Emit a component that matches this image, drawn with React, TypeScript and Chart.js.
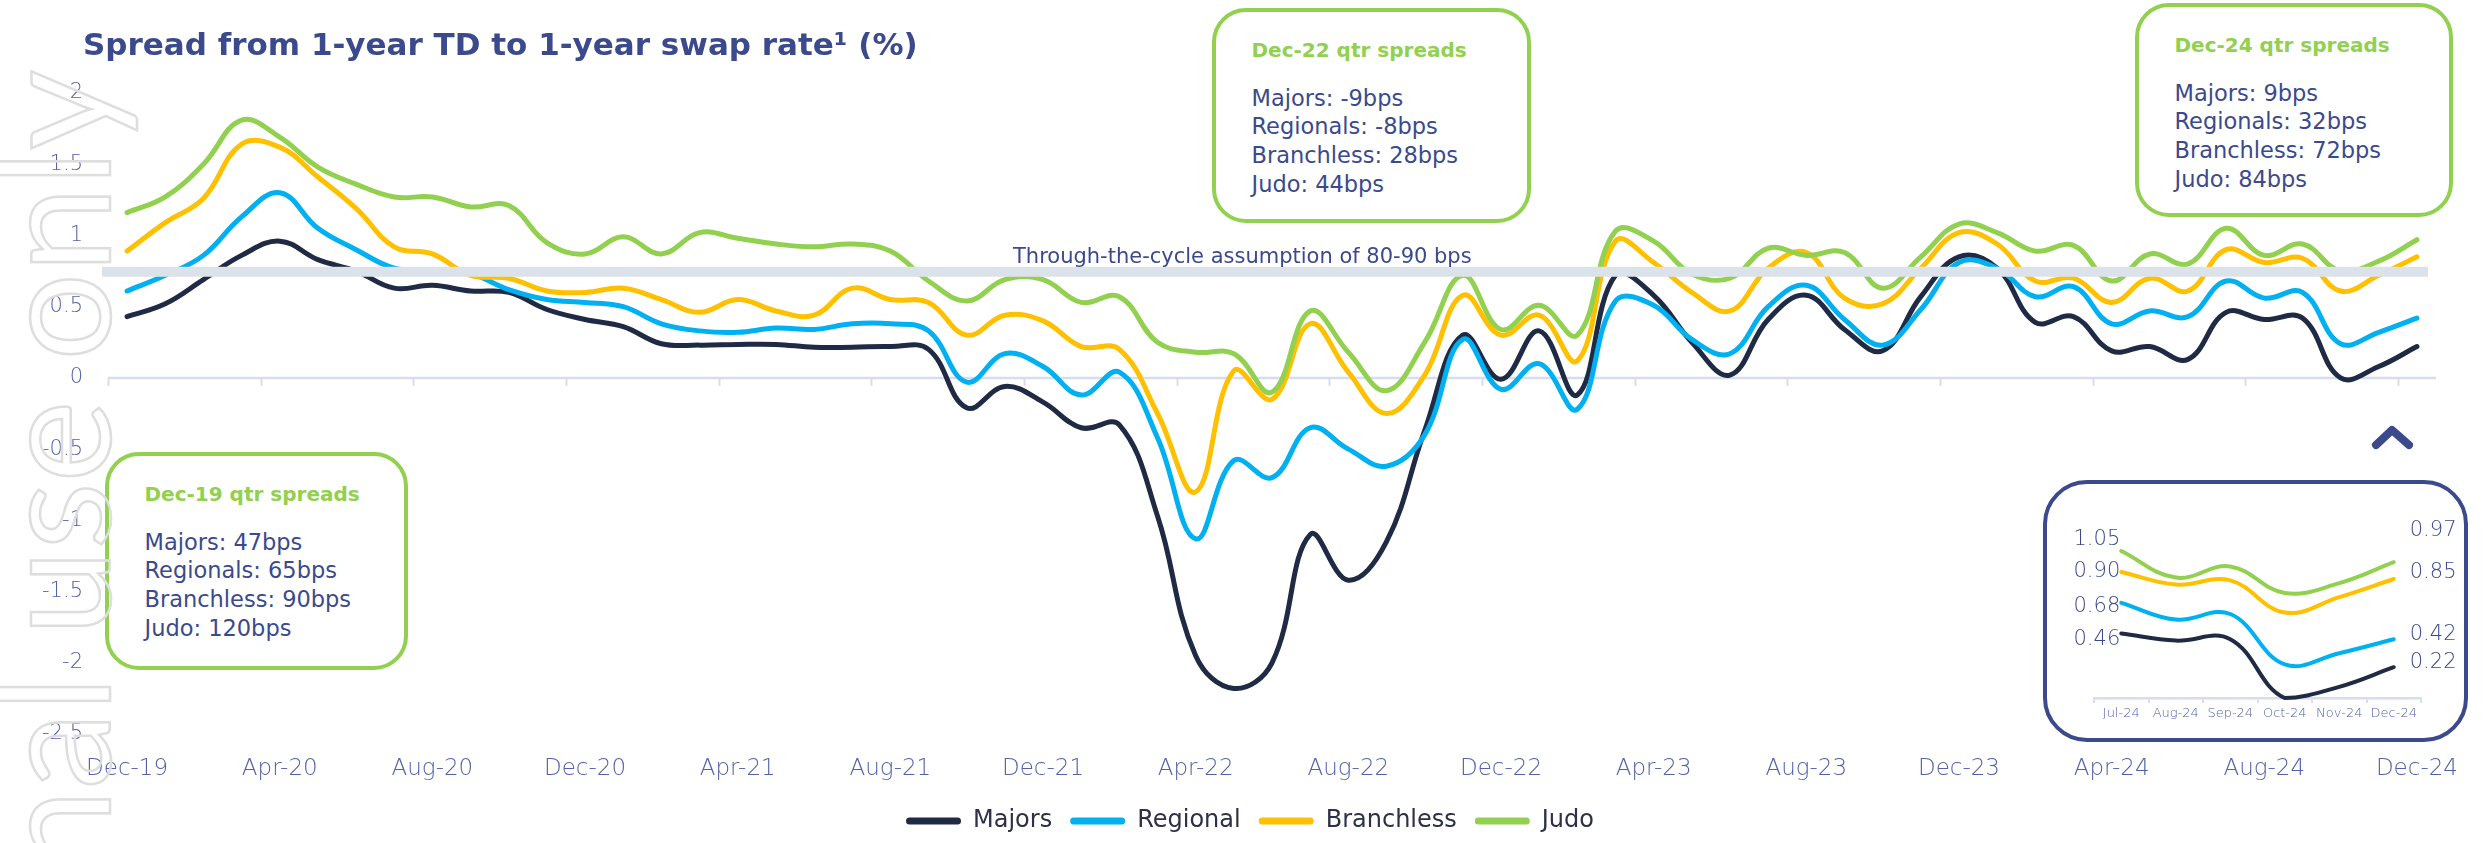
import React, { useEffect, useRef } from 'react';
import { Chart, registerables } from 'chart.js';

Chart.register(...registerables);

const FONT = '"DejaVu Sans", sans-serif';
const NAVY = '#3A4A8C';
const AXIS_TEXT = '#5262A8';

const MONTHS = [
  'Dec-19',
  'Jan-20', 'Feb-20', 'Mar-20', 'Apr-20', 'May-20', 'Jun-20', 'Jul-20', 'Aug-20', 'Sep-20', 'Oct-20', 'Nov-20', 'Dec-20',
  'Jan-21', 'Feb-21', 'Mar-21', 'Apr-21', 'May-21', 'Jun-21', 'Jul-21', 'Aug-21', 'Sep-21', 'Oct-21', 'Nov-21', 'Dec-21',
  'Jan-22', 'Feb-22', 'Mar-22', 'Apr-22', 'May-22', 'Jun-22', 'Jul-22', 'Aug-22', 'Sep-22', 'Oct-22', 'Nov-22', 'Dec-22',
  'Jan-23', 'Feb-23', 'Mar-23', 'Apr-23', 'May-23', 'Jun-23', 'Jul-23', 'Aug-23', 'Sep-23', 'Oct-23', 'Nov-23', 'Dec-23',
  'Jan-24', 'Feb-24', 'Mar-24', 'Apr-24', 'May-24', 'Jun-24', 'Jul-24', 'Aug-24', 'Sep-24', 'Oct-24', 'Nov-24', 'Dec-24',
];

const MAJORS = [
  0.43, 0.52, 0.69, 0.86, 0.96, 0.83, 0.75, 0.63, 0.65, 0.61,
  0.60, 0.48, 0.41, 0.36, 0.24, 0.23, 0.235, 0.235, 0.215, 0.215,
  0.22, 0.20, -0.21, -0.06, -0.17, -0.35, -0.33, -0.97, -1.95, -2.18,
  -2.0, -1.1, -1.42, -1.15, -0.37, 0.30, -0.01, 0.33, -0.12, 0.72,
  0.58, 0.25, 0.02, 0.41, 0.58, 0.34, 0.19, 0.57, 0.85, 0.77,
  0.39, 0.43, 0.19, 0.22, 0.13, 0.46, 0.41, 0.42, 0.0, 0.08,
  0.22,
];

const REGIONAL = [
  0.61, 0.72, 0.86, 1.13, 1.30, 1.05, 0.90, 0.77, 0.75, 0.73,
  0.62, 0.55, 0.53, 0.50, 0.38, 0.33, 0.32, 0.35, 0.34, 0.38,
  0.38, 0.33, -0.03, 0.17, 0.08, -0.12, 0.04, -0.42, -1.13, -0.58,
  -0.70, -0.35, -0.50, -0.62, -0.40, 0.27, -0.08, 0.10, -0.22, 0.54,
  0.51, 0.27, 0.17, 0.50, 0.65, 0.41, 0.23, 0.48, 0.81, 0.77,
  0.57, 0.64, 0.38, 0.47, 0.43, 0.68, 0.56, 0.60, 0.24, 0.32,
  0.42,
];

const BRANCHLESS = [
  0.89, 1.09, 1.26, 1.64, 1.62, 1.41, 1.19, 0.92, 0.87, 0.72,
  0.70, 0.61, 0.60, 0.63, 0.55, 0.46, 0.55, 0.47, 0.44, 0.63,
  0.55, 0.53, 0.30, 0.44, 0.40, 0.22, 0.20, -0.25, -0.80, 0.05,
  -0.15, 0.38, 0.04, -0.25, 0.02, 0.58, 0.30, 0.44, 0.12, 0.96,
  0.81, 0.60, 0.47, 0.77, 0.88, 0.56, 0.52, 0.77, 1.02, 0.94,
  0.68, 0.70, 0.53, 0.70, 0.61, 0.90, 0.81, 0.84, 0.61, 0.72,
  0.85,
];

const JUDO = [
  1.16, 1.27, 1.50, 1.81, 1.69, 1.48, 1.36, 1.27, 1.27, 1.20,
  1.21, 0.95, 0.87, 0.99, 0.87, 1.02, 0.98, 0.94, 0.92, 0.94,
  0.89, 0.68, 0.54, 0.69, 0.69, 0.53, 0.57, 0.25, 0.18, 0.17,
  -0.10, 0.47, 0.18, -0.09, 0.25, 0.72, 0.34, 0.51, 0.30, 1.03,
  0.96, 0.73, 0.70, 0.91, 0.86, 0.88, 0.63, 0.85, 1.08, 1.02,
  0.89, 0.93, 0.68, 0.87, 0.80, 1.05, 0.86, 0.94, 0.75, 0.82,
  0.97,
];

const SERIES_NAMES = ['Majors', 'Regional', 'Branchless', 'Judo'];
const SERIES_COLORS = ['#1F2A44', '#00B0F0', '#FFC000', '#92D050'];
const SERIES_DATA = [MAJORS, REGIONAL, BRANCHLESS, JUDO];

const Y_MIN = -2.5;
const Y_MAX = 2;
const Y_STEP = 0.5;

const BAND_LOW = 0.71;
const BAND_HIGH = 0.78;
const BAND_LABEL = 'Through-the-cycle assumption of 80-90 bps';

const INSET_MONTHS = ['Jul-24', 'Aug-24', 'Sep-24', 'Oct-24', 'Nov-24', 'Dec-24'];

const TITLE = 'Spread from 1-year TD to 1-year swap rate\u00B9 (%)';

const DEC19_TITLE = 'Dec-19 qtr spreads';
const DEC19_LINES = ['Majors: 47bps', 'Regionals: 65bps', 'Branchless: 90bps', 'Judo: 120bps'];
const DEC22_TITLE = 'Dec-22 qtr spreads';
const DEC22_LINES = ['Majors: -9bps', 'Regionals: -8bps', 'Branchless: 28bps', 'Judo: 44bps'];
const DEC24_TITLE = 'Dec-24 qtr spreads';
const DEC24_LINES = ['Majors: 9bps', 'Regionals: 32bps', 'Branchless: 72bps', 'Judo: 84bps'];

const WATERMARK = 'For internal use only';

const mainDecor = {
  id: 'mainDecor',
  beforeDatasetsDraw(chart: any) {
    const { ctx, chartArea, scales } = chart;
    const x = scales.x;
    const y = scales.y;
    const y0 = y.getPixelForValue(0);
    ctx.save();
    ctx.strokeStyle = '#D7DCEE';
    ctx.lineWidth = 2.5;
    ctx.beginPath();
    ctx.moveTo(chartArea.left, y0);
    ctx.lineTo(chartArea.right, y0);
    ctx.stroke();
    const half = (x.getPixelForValue(1) - x.getPixelForValue(0)) / 2;
    ctx.lineWidth = 2;
    for (let i = 0; i < MONTHS.length; i += 4) {
      const px = Math.round(x.getPixelForValue(i) - half) + 0.5;
      ctx.beginPath();
      ctx.moveTo(px, y0);
      ctx.lineTo(px, y0 + 8);
      ctx.stroke();
    }
    ctx.restore();
  },
  afterDatasetsDraw(chart: any) {
    const { ctx, chartArea, scales } = chart;
    const y = scales.y;
    const yTop = y.getPixelForValue(BAND_HIGH);
    const yBot = y.getPixelForValue(BAND_LOW);
    ctx.save();
    ctx.fillStyle = '#DCE2EA';
    ctx.fillRect(chartArea.left - 6, yTop, chartArea.width - 2, yBot - yTop);
    ctx.font = `21px ${FONT}`;
    ctx.fillStyle = NAVY;
    ctx.textAlign = 'left';
    ctx.textBaseline = 'middle';
    ctx.fillText(BAND_LABEL, chartArea.left + 905, yTop - 9);
    ctx.restore();
  },
};

function MainChart() {
  const ref = useRef<HTMLCanvasElement | null>(null);
  useEffect(() => {
    if (!ref.current) return;
    const chart = new Chart(ref.current, {
      type: 'line',
      data: {
        labels: MONTHS,
        datasets: SERIES_NAMES.map((name, i) => ({
          label: name,
          data: SERIES_DATA[i],
          borderColor: SERIES_COLORS[i],
          backgroundColor: SERIES_COLORS[i],
          borderWidth: 5,
          pointRadius: 0,
          tension: 0.4,
          borderCapStyle: 'round',
          borderJoinStyle: 'round',
          fill: false,
          order: 4 - i,
        })),
      },
      options: {
        responsive: false,
        animation: false,
        devicePixelRatio: 1,
        events: [],
        layout: { padding: { left: 16, right: 0, top: 93, bottom: 0 } },
        scales: {
          x: {
            type: 'category',
            offset: true,
            grid: { display: false, drawTicks: false },
            border: { display: false },
            ticks: {
              autoSkip: false,
              maxRotation: 0,
              minRotation: 0,
              padding: 21,
              color: AXIS_TEXT,
              font: { family: FONT, size: 23, weight: '300' },
              callback: (_v: any, i: number) => (i % 4 === 0 ? MONTHS[i] : null),
            },
            afterFit: (s: any) => {
              s.height = 57;
            },
          },
          y: {
            min: Y_MIN,
            max: Y_MAX,
            grid: { display: false, drawTicks: false },
            border: { display: false },
            ticks: {
              stepSize: Y_STEP,
              padding: 25,
              color: AXIS_TEXT,
              font: { family: FONT, size: 21, weight: '300' },
              callback: (v: any) => String(Math.round(Number(v) * 10) / 10),
            },
            afterFit: (s: any) => {
              s.width = 92;
            },
          },
          yRight: {
            type: 'linear',
            position: 'right',
            min: 0,
            max: 1,
            grid: { display: false, drawTicks: false },
            border: { display: false },
            ticks: { display: false },
            afterFit: (s: any) => {
              s.width = 48;
            },
          },
        },
        plugins: {
          tooltip: { enabled: false },
          title: { display: false },
          legend: {
            display: true,
            position: 'bottom',
            labels: {
              boxWidth: 55,
              boxHeight: 7,
              padding: 18,
              color: '#2D3047',
              font: { family: FONT, size: 24 },
              useBorderRadius: true,
              borderRadius: 3.5,
              sort: (a: any, b: any) => a.datasetIndex - b.datasetIndex,
              generateLabels: (c: any) =>
                (Chart.defaults.plugins.legend.labels as any).generateLabels(c).map((it: any) => ({
                  ...it,
                  lineWidth: 0,
                  fillStyle: SERIES_COLORS[it.datasetIndex],
                  strokeStyle: SERIES_COLORS[it.datasetIndex],
                })),
            },
          },
        },
      } as any,
      plugins: [mainDecor],
    } as any);
    return () => chart.destroy();
  }, []);
  return (
    <canvas
      ref={ref}
      width={2484}
      height={843}
      style={{ position: 'absolute', left: 0, top: 0, width: 2484, height: 843 }}
    />
  );
}

const INSET_LEFT_DY = [6, 4, 0, -11];
const INSET_RIGHT_DY = [-5, -5, -6, -32];

const insetLabels = {
  id: 'insetLabels',
  afterDatasetsDraw(chart: any) {
    const { ctx } = chart;
    ctx.save();
    ctx.font = `300 21px ${FONT}`;
    ctx.fillStyle = NAVY;
    ctx.textBaseline = 'middle';
    chart.data.datasets.forEach((ds: any, di: number) => {
      const meta = chart.getDatasetMeta(di);
      const n = meta.data.length;
      const first = meta.data[0];
      const last = meta.data[n - 1];
      ctx.textAlign = 'right';
      ctx.fillText(Number(ds.data[0]).toFixed(2), first.x - 1, first.y + INSET_LEFT_DY[di]);
      ctx.textAlign = 'left';
      ctx.fillText(Number(ds.data[n - 1]).toFixed(2), last.x + 16, last.y + INSET_RIGHT_DY[di]);
    });
    ctx.restore();
  },
};

function InsetChart() {
  const ref = useRef<HTMLCanvasElement | null>(null);
  useEffect(() => {
    if (!ref.current) return;
    const chart = new Chart(ref.current, {
      type: 'line',
      data: {
        labels: INSET_MONTHS,
        datasets: SERIES_NAMES.map((name, i) => ({
          label: name,
          data: SERIES_DATA[i].slice(-INSET_MONTHS.length),
          borderColor: SERIES_COLORS[i],
          backgroundColor: SERIES_COLORS[i],
          borderWidth: 4,
          pointRadius: 0,
          tension: 0.4,
          borderCapStyle: 'round',
          fill: false,
          clip: false,
          order: 4 - i,
        })),
      },
      options: {
        responsive: false,
        animation: false,
        devicePixelRatio: 1,
        events: [],
        layout: { padding: { left: 51, right: 47, top: 50, bottom: 0 } },
        scales: {
          x: {
            type: 'category',
            offset: true,
            grid: {
              display: true,
              drawOnChartArea: false,
              drawTicks: true,
              tickLength: 5,
              color: '#D7DCEE',
              lineWidth: 2,
              offset: true,
            },
            border: { display: true, color: '#D7DCEE', width: 2.5 },
            ticks: {
              autoSkip: false,
              maxRotation: 0,
              padding: 3,
              color: AXIS_TEXT,
              font: { family: FONT, size: 13, weight: '300' },
            },
            afterFit: (s: any) => {
              s.height = 44;
            },
          },
          y: { display: false, min: 0, max: 1.2 },
        },
        plugins: {
          legend: { display: false },
          tooltip: { enabled: false },
        },
      } as any,
      plugins: [insetLabels],
    } as any);
    return () => chart.destroy();
  }, []);
  return (
    <canvas
      ref={ref}
      width={425}
      height={262}
      style={{ position: 'absolute', left: 2043, top: 480, width: 425, height: 262 }}
    />
  );
}

function AnnotBox(props: { left: number; top: number; width: number; height: number; title: string; lines: string[] }) {
  const { left, top, width, height, title, lines } = props;
  const bw = 4.5;
  return (
    <div
      style={{
        position: 'absolute',
        left,
        top,
        width,
        height,
        boxSizing: 'border-box',
        border: `${bw}px solid #92D050`,
        borderRadius: 34,
        background: '#fff',
      }}
    >
      <div
        style={{
          position: 'absolute',
          left: 40 - bw,
          top: 42 - bw - 12,
          fontFamily: FONT,
          fontWeight: 700,
          fontSize: 20,
          lineHeight: '24px',
          color: '#92D050',
          whiteSpace: 'nowrap',
        }}
      >
        {title}
      </div>
      {lines.map((t, i) => (
        <div
          key={i}
          style={{
            position: 'absolute',
            left: 40 - bw,
            top: 90 - bw - 14 + i * 28.8,
            fontFamily: FONT,
            fontSize: 22.5,
            lineHeight: '28px',
            color: NAVY,
            whiteSpace: 'nowrap',
          }}
        >
          {t}
        </div>
      ))}
    </div>
  );
}

export default function App() {
  return (
    <div
      style={{
        position: 'fixed',
        left: 0,
        top: 0,
        width: 2484,
        height: 843,
        overflow: 'hidden',
        background: '#fff',
      }}
    >
      <MainChart />
      <div
        style={{
          position: 'absolute',
          left: 83,
          top: 29,
          fontFamily: FONT,
          fontWeight: 700,
          fontSize: 31,
          lineHeight: 1,
          color: NAVY,
          whiteSpace: 'nowrap',
        }}
      >
        {TITLE}
      </div>
      <AnnotBox left={105} top={452} width={303} height={218} title={DEC19_TITLE} lines={DEC19_LINES} />
      <AnnotBox left={1212} top={8} width={319} height={215} title={DEC22_TITLE} lines={DEC22_LINES} />
      <AnnotBox left={2135} top={3} width={318} height={214} title={DEC24_TITLE} lines={DEC24_LINES} />
      <div
        style={{
          position: 'absolute',
          left: 2043,
          top: 480,
          width: 425,
          height: 262,
          boxSizing: 'border-box',
          border: `4px solid ${NAVY}`,
          borderRadius: 44,
          background: '#fff',
        }}
      />
      <InsetChart />
      <svg
        width={56}
        height={40}
        style={{ position: 'absolute', left: 2365, top: 418 }}
      >
        <polyline
          points="11,27 27,12 44,27"
          fill="none"
          stroke={NAVY}
          strokeWidth={8}
          strokeLinecap="round"
          strokeLinejoin="round"
        />
      </svg>
      <div
        style={{
          position: 'absolute',
          left: -27,
          top: 2070,
          width: 2000,
          height: 155,
          textAlign: 'right',
          transform: 'rotate(-90deg)',
          transformOrigin: '0 0',
          fontFamily: 'Lato, sans-serif',
          fontSize: 155,
          lineHeight: 1,
          whiteSpace: 'nowrap',
          color: 'transparent',
          WebkitTextStroke: '2.5px #DEDEDE',
          pointerEvents: 'none',
        } as any}
      >
        {WATERMARK}
      </div>
    </div>
  );
}
